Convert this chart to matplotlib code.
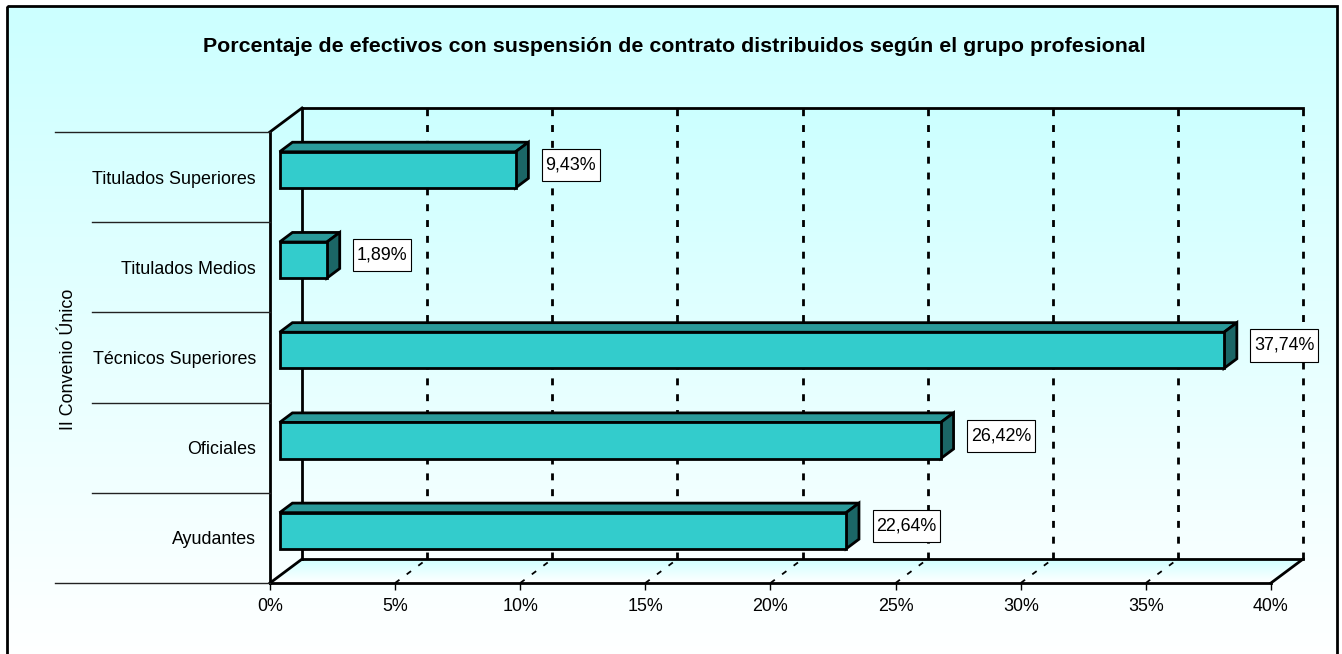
import numpy as np
import matplotlib
matplotlib.use("Agg")
import matplotlib.pyplot as plt
from matplotlib.patches import Polygon, Rectangle
from matplotlib.colors import LinearSegmentedColormap
from matplotlib.path import Path

plt.rcParams["font.family"] = ["Liberation Sans", "DejaVu Sans"]

# data (bottom to top)
categories = ["Ayudantes", "Oficiales", "Técnicos Superiores",
              "Titulados Medios", "Titulados Superiores"]
values = [22.64, 26.42, 37.74, 1.89, 9.43]
xticks = [0, 5, 10, 15, 20, 25, 30, 35, 40]
title = "Porcentaje de efectivos con suspensión de contrato distribuidos según el grupo profesional"
ylabel = "II Convenio Único"

# 3d look: depth offsets in data units, bar depth slot
DX = 1.28
DY = 0.265
D0, D1 = 0.3, 0.7
BAR_H = 0.4
LABEL_GAP = 1.2

FRONT = "#33CCCC"
TOP = "#2A9A9A"
SIDE = "#1B6666"
LW = 2.0
FS = 12.9


def label_box(x0, y0, width, height, mutation_size):
    # plain rectangle, wider vertical padding than horizontal
    px, py = 0.2 * mutation_size, 0.42 * mutation_size
    x0, y0 = x0 - px, y0 - py
    x1, y1 = x0 + width + 2 * px, y0 + height + 2 * py
    return Path([(x0, y0), (x1, y0), (x1, y1), (x0, y1), (x0, y0)], closed=True)


W, H = 1342, 654
fig = plt.figure(figsize=(W / 100, H / 100), dpi=100)

# chart area background
bg = fig.add_axes([0, 0, 1, 1], zorder=0)
bg.set_axis_off()
grad = np.linspace(0, 1, 256).reshape(-1, 1)
cmap = LinearSegmentedColormap.from_list("bgc", ["#CCFFFF", "#FFFFFF"])
bg.imshow(grad, aspect="auto", cmap=cmap, extent=[7, 1337, 660, 6])
bg.add_patch(Rectangle((7, 6), 1330, 660, fill=False, ec="black", lw=2))
bg.set_xlim(0, W)
bg.set_ylim(H, 0)

ax = fig.add_axes([270 / W, (H - 583) / H, (1303 - 270) / W, (583 - 108) / H], zorder=1)
ax.patch.set_alpha(0)
n = len(categories)
xmax = xticks[-1]

# walls and floor
wall = Polygon([(0, 0), (0, n), (DX, n + DY), (xmax + DX, n + DY),
                (xmax + DX, DY), (DX, DY)], closed=True, fc="none", ec="none")
ax.add_patch(wall)
im = ax.imshow(grad, aspect="auto", cmap=LinearSegmentedColormap.from_list(
    "wall", ["#CCFFFF", "#FAFFFF"]), extent=[0, xmax + DX, 0, n + DY], zorder=0)
im.set_clip_path(wall)
floor = Polygon([(0, 0), (DX, DY), (xmax + DX, DY), (xmax, 0)],
                closed=True, fc="none", ec="none")
ax.add_patch(floor)
im2 = ax.imshow(grad, aspect="auto", cmap=LinearSegmentedColormap.from_list(
    "floor", ["#D0FFFF", "#FFFFFF"]), extent=[0, xmax + DX, 0, DY], zorder=0)
im2.set_clip_path(floor)

# gridlines on back wall and floor
for t in xticks[1:]:
    ax.plot([t + DX, t + DX], [DY, n + DY], color="black", lw=LW,
            dashes=(2.5, 3.2), zorder=1, clip_on=False)
    if t != xmax:
        ax.plot([t, t + DX], [0, DY], color="black", lw=1.3,
                dashes=(3, 5), zorder=1, clip_on=False)

# box edges
edges = [
    ([DX, DX], [DY, n + DY]),
    ([DX, xmax + DX], [n + DY, n + DY]),
    ([DX, xmax + DX], [DY, DY]),
    ([0, DX], [n, n + DY]),
    ([0, DX], [0, DY]),
    ([0, 0], [0, n]),
    ([0, xmax], [0, 0]),
    ([xmax, xmax + DX], [0, DY]),
]
for xs, ys in edges:
    ax.plot(xs, ys, color="black", lw=LW, zorder=2, clip_on=False,
            solid_capstyle="projecting")

# category separators to the left of the plot
for k in range(n + 1):
    x_start = -0.208 if k in (0, n) else -0.172
    ax.plot([x_start, 0], [k, k], color="#222222", lw=1,
            transform=ax.get_yaxis_transform(), clip_on=False, zorder=2)

# bars
ddx = (D1 - D0) * DX
ddy = (D1 - D0) * DY
for i, v in enumerate(values):
    c = i + 0.5
    x0 = D0 * DX
    y0 = c - BAR_H / 2 + D0 * DY
    top = [(x0, y0 + BAR_H), (x0 + v, y0 + BAR_H),
           (x0 + v + ddx, y0 + BAR_H + ddy), (x0 + ddx, y0 + BAR_H + ddy)]
    side = [(x0 + v, y0), (x0 + v + ddx, y0 + ddy),
            (x0 + v + ddx, y0 + BAR_H + ddy), (x0 + v, y0 + BAR_H)]
    ax.add_patch(Polygon(top, closed=True, fc=TOP, ec="black", lw=LW,
                         joinstyle="miter", zorder=3))
    ax.add_patch(Polygon(side, closed=True, fc=SIDE, ec="black", lw=LW,
                         joinstyle="miter", zorder=3))
    ax.add_patch(Rectangle((x0, y0), v, BAR_H, fc=FRONT, ec="black", lw=LW,
                           joinstyle="miter", zorder=3))
    label = f"{v:.2f}%".replace(".", ",")
    ax.text(x0 + v + LABEL_GAP, c + 0.5 * DY, label, ha="left", va="center",
            fontsize=FS, zorder=4, clip_on=False,
            bbox=dict(boxstyle=label_box, fc="white", ec="black", lw=0.8))

ax.set_xlim(0, xmax + DX)
ax.set_ylim(0, n + DY)
for s in ax.spines.values():
    s.set_visible(False)

ax.set_xticks(xticks)
ax.set_xticklabels([f"{t}%" for t in xticks])
ax.tick_params(axis="x", length=5, width=1, pad=6, labelsize=FS)
ax.set_yticks(np.arange(n) + 0.5)
ax.set_yticklabels(categories)
ax.tick_params(axis="y", length=0, pad=10, labelsize=FS)

ax.set_ylabel(ylabel, fontsize=FS)
ax.yaxis.set_label_coords(-0.187, 0.47)

fig.text(674 / W, 1 - 47 / H, title, ha="center", va="center",
         fontsize=15.4, fontweight="bold")

fig.savefig("out.png", dpi=100)
